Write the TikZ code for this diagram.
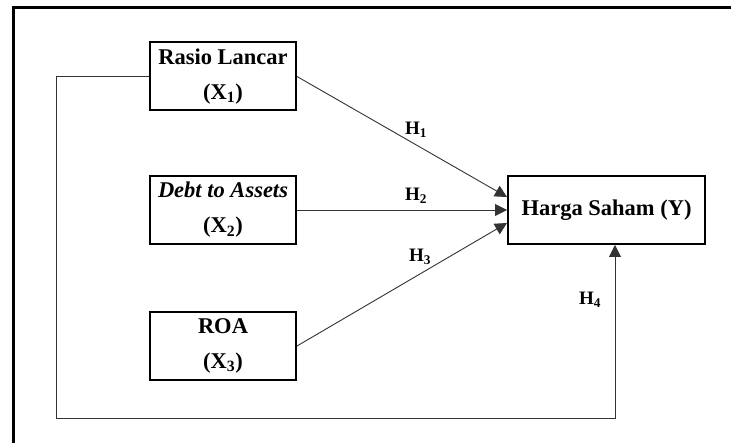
\documentclass[tikz,border=0pt]{standalone}
\usepackage{fontspec}
\setmainfont{Liberation Serif}
\usetikzlibrary{calc,arrows.meta}
\begin{document}
\begin{tikzpicture}[x=1pt,y=-1pt,
  varbox/.style={draw=black,line width=2pt,minimum width=146pt,minimum height=68pt,
    inner sep=0pt,align=center,font=\fontsize{22.5}{35}\selectfont\bfseries},
  conn/.style={draw=black!80,line width=0.9pt},
  arr/.style={conn,-{Triangle[length=12pt,width=12pt]}},
  hlab/.style={font=\fontsize{19}{22}\selectfont\bfseries,inner sep=0pt}]
\useasboundingbox (0,0) rectangle (731,443);
\fill[white] (0,0) rectangle (731,443);
\draw[line width=3pt] (13,480) -- (13,8) -- (760,8);
\node[varbox] (r) at (223,76.5) {Rasio Lancar\\(X\textsubscript{1})};
\node[varbox] (d) at (223,210) {\textit{Debt to Assets}\\(X\textsubscript{2})};
\node[varbox] (o) at (223,346) {ROA\\(X\textsubscript{3})};
\node[varbox,minimum width=197pt] (h) at (606.5,210) {Harga Saham (Y)};
\coordinate (t1) at ($(h.west)+(0,-13)$);
\coordinate (t3) at ($(h.west)+(0,13)$);
\coordinate (lc) at (56,418);
\coordinate (hb) at ($(h.south)+(8.5,0)$);
\draw[arr] (r.east) -- (t1);
\draw[arr] (d.east) -- (h.west);
\draw[arr] (o.east) -- (t3);
\draw[arr] (r.west) -| (lc) -| (hb);
\node[hlab] (l1) at (416,130) {H\textsubscript{1}};
\node[hlab] (l2) at (416,196) {H\textsubscript{2}};
\node[hlab] (l3) at (420,257) {H\textsubscript{3}};
\node[hlab] (l4) at (590,300) {H\textsubscript{4}};
\end{tikzpicture}
\end{document}
